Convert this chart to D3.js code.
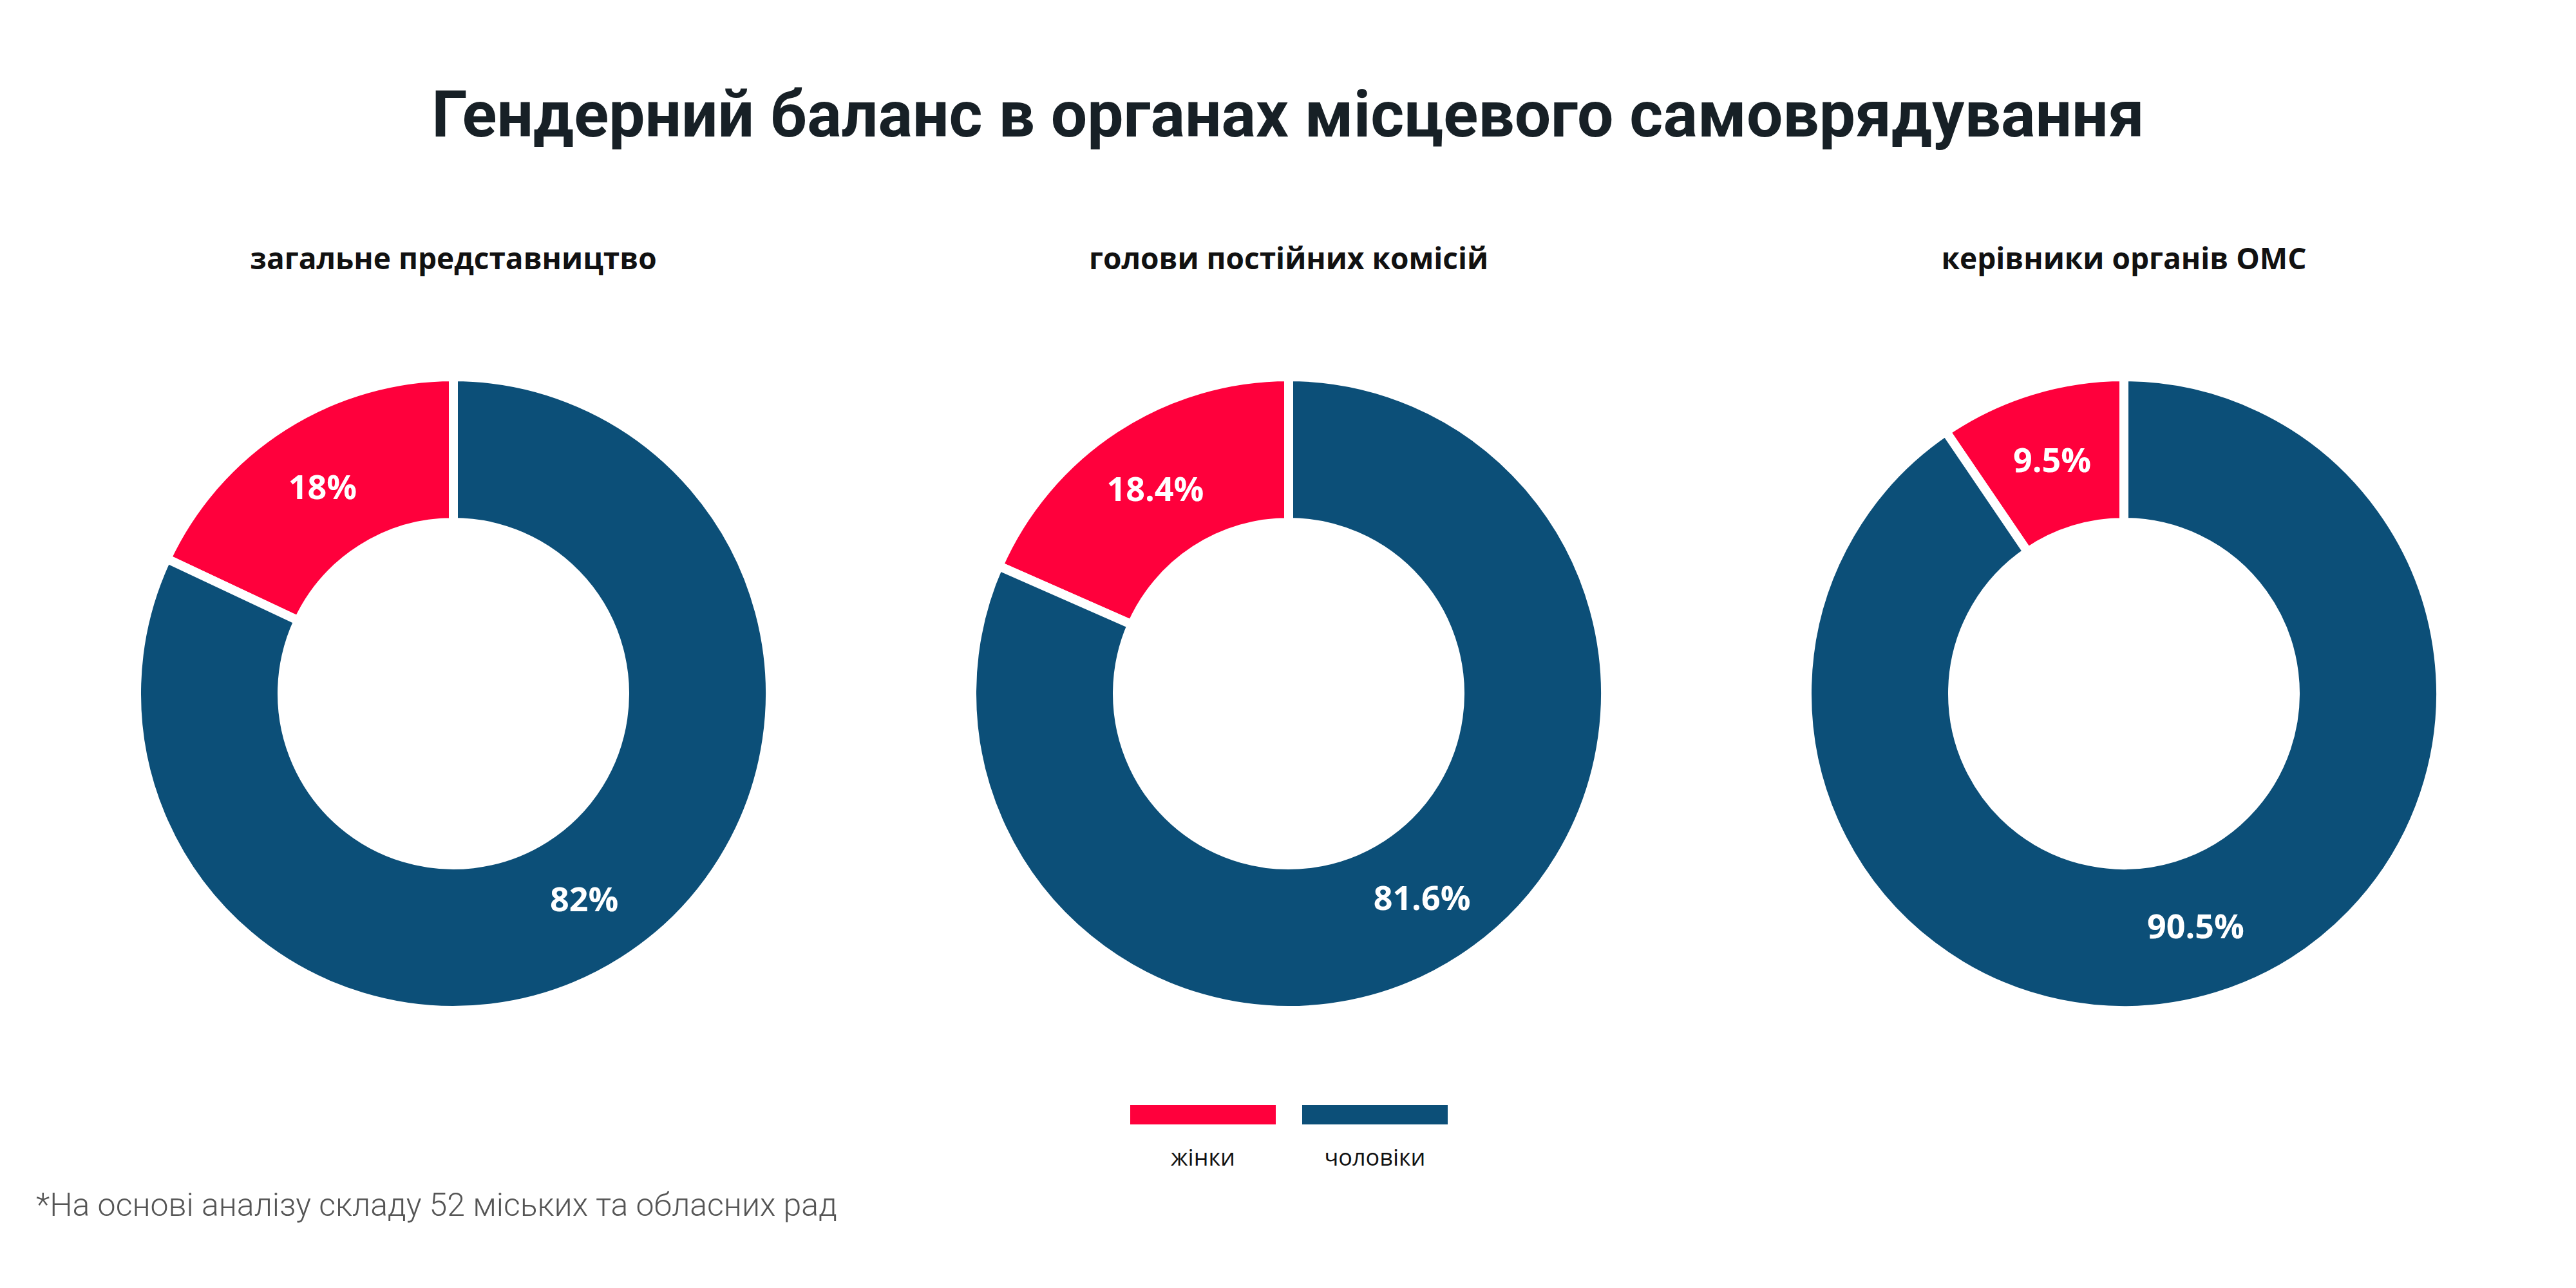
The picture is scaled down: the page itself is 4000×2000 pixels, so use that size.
<!DOCTYPE html>
<html><head><meta charset="utf-8">
<script src="https://cdn.jsdelivr.net/npm/d3@7"></script>
<style>body{margin:0;background:#fff}</style>
</head><body>
<script>
// Chart data
const charts = ['загальне представництво', 'голови постійних комісій', 'керівники органів ОМС'];
const women = [18, 18.4, 9.5];
const men = [82, 81.6, 90.5];
const labels = [['18%', '82%'], ['18.4%', '81.6%'], ['9.5%', '90.5%']];
const seriesNames = ['жінки', 'чоловіки'];
const colors = ['#ff003c', '#0c4f78'];

const W = 4000, H = 2000;
const svg = d3.select('body').append('svg').attr('width', W).attr('height', H);

svg.append('text').attr('x', 2000).attr('y', 212).attr('text-anchor', 'middle')
  .attr('font-family', 'Roboto').attr('font-weight', 700).attr('font-size', 100)
  .attr('fill', '#172026').text('Гендерний баланс в органах місцевого самоврядування');

const cx = d3.scalePoint().domain(charts).range([704, 3298]);
const outerR = 492, innerR = 266;
// counter-clockwise from 12 o'clock: women slice sits on the left
const pie = d3.pie().sort(null).value(d => d).startAngle(0).endAngle(-2 * Math.PI);
const arc = d3.arc().innerRadius(innerR).outerRadius(outerR);
const labelArc = d3.arc().innerRadius((innerR + outerR) / 2).outerRadius((innerR + outerR) / 2);

charts.forEach((name, i) => {
  const g = svg.append('g').attr('transform', `translate(${cx(name)},1077)`);
  svg.append('text').attr('x', cx(name)).attr('y', 418).attr('text-anchor', 'middle')
    .attr('font-family', 'Open Sans').attr('font-weight', 700).attr('font-size', 46)
    .attr('fill', '#111').text(name);
  const arcs = pie([women[i], men[i]]);
  g.selectAll('path').data(arcs).enter().append('path')
    .attr('d', arc).attr('fill', (d, j) => colors[j])
    .attr('stroke', '#fff').attr('stroke-width', 14);
  g.selectAll('text').data(arcs).enter().append('text')
    .attr('transform', d => `translate(${labelArc.centroid(d)})`)
    .attr('text-anchor', 'middle').attr('dy', '0.35em')
    .attr('font-family', 'Open Sans').attr('font-weight', 700).attr('font-size', 52)
    .attr('fill', '#fff').text((d, j) => labels[i][j]);
});

// Legend
const lx = d3.scalePoint().domain(seriesNames).range([1868, 2135]);
seriesNames.forEach((s, j) => {
  svg.append('rect').attr('x', lx(s) - 113).attr('y', 1716).attr('width', 226).attr('height', 30)
    .attr('fill', colors[j]);
  svg.append('text').attr('x', lx(s)).attr('y', 1810).attr('text-anchor', 'middle')
    .attr('font-family', 'Open Sans').attr('font-size', 36).attr('fill', '#111').text(s);
});

svg.append('text').attr('x', 56).attr('y', 1888)
  .attr('font-family', 'Roboto').attr('font-weight', 300).attr('font-size', 50)
  .attr('fill', '#555').text('*На основі аналізу складу 52 міських та обласних рад');
</script>
</body></html>
